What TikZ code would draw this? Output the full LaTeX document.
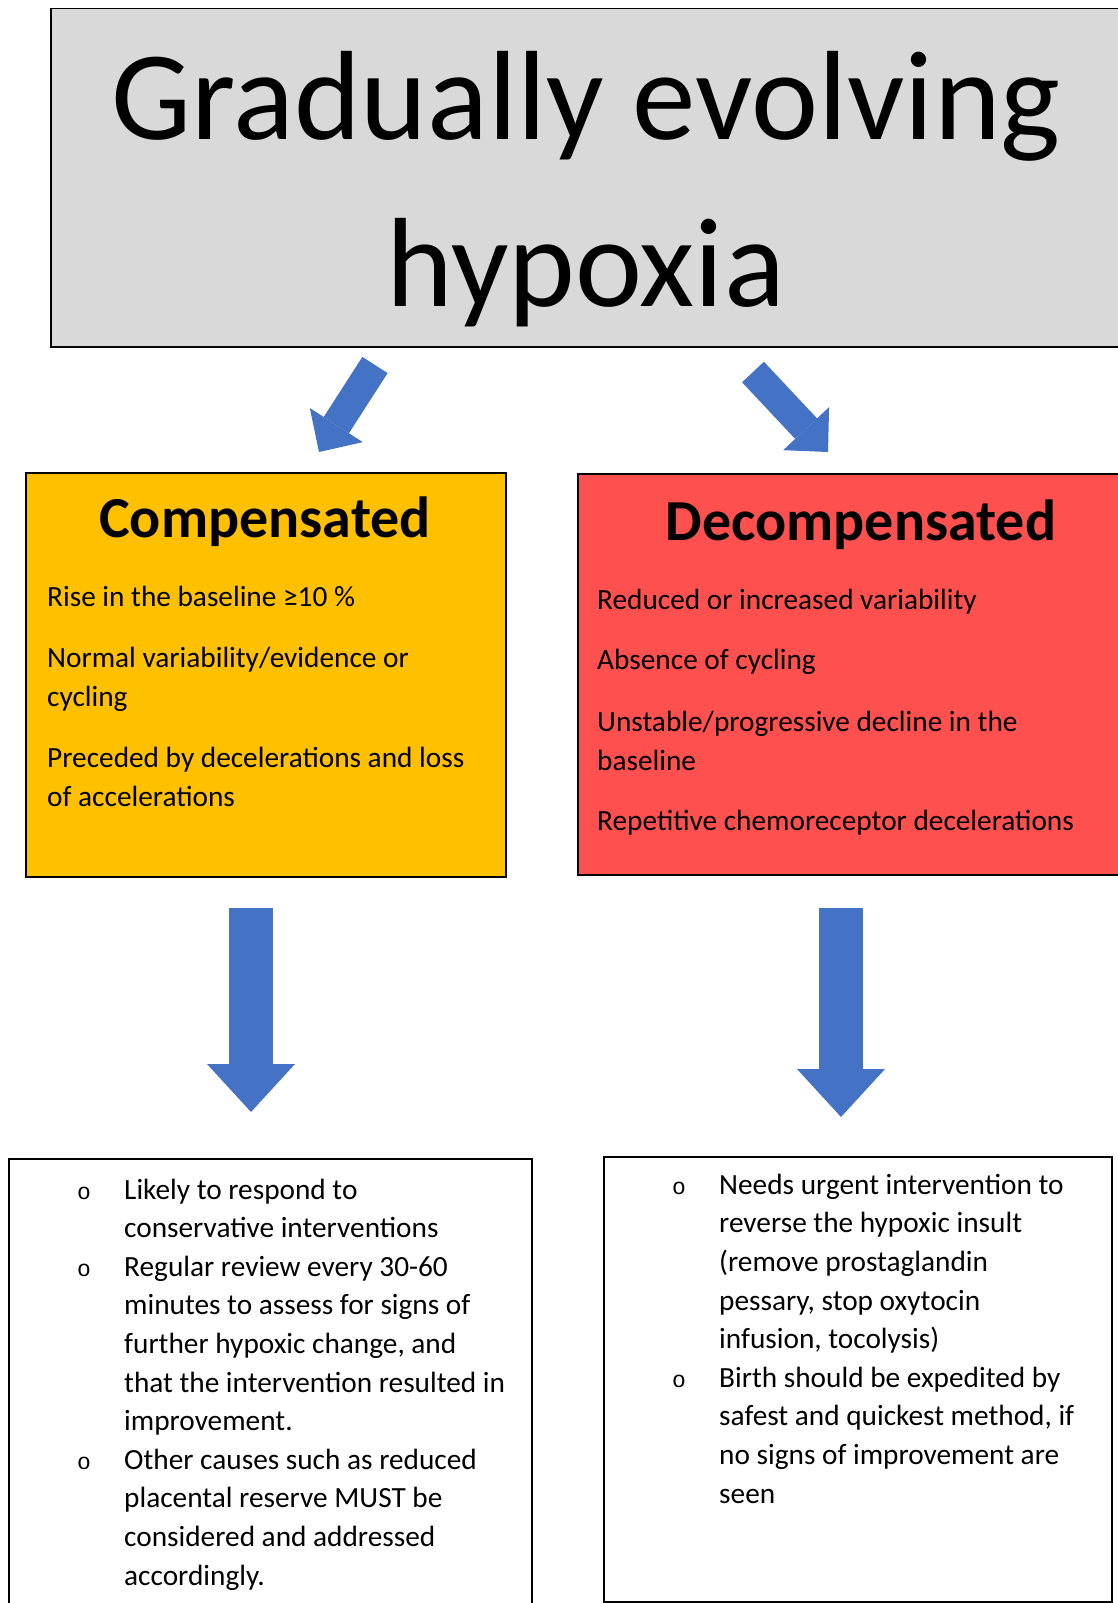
\documentclass[tikz,border=0pt]{standalone}
\usepackage{fontspec}
\setmainfont{Carlito}
\newfontfamily\bulletfont{Liberation Mono}
\usetikzlibrary{arrows.meta}
\definecolor{boxgray}{HTML}{D9D9D9}
\definecolor{compyellow}{HTML}{FFC000}
\definecolor{decompred}{HTML}{FF5050}
\definecolor{arrowblue}{HTML}{4472C4}
\newcommand{\listbullet}{\makebox[47pt][l]{\bulletfont\fontsize{23}{23}\selectfont o}} % hollow bullet
\newcommand{\listindent}{\hspace*{47pt}} % continuation line of a bullet
\tikzset{
    x=1pt, y=-1pt, % pixel-like units, y runs downward
    box/.style={draw, line width=1.5pt, inner sep=0pt, anchor=north west}, % every framed box
    heading/.style={font=\bfseries\fontsize{58}{70}\selectfont, anchor=base}, % box headings
    body/.style={font=\fontsize{29.3}{38.6}\selectfont, align=left, anchor=base west, inner sep=0pt}, % body text, placed by its last line
    slantarrow/.style={draw=arrowblue, line width=30pt, -{Triangle[length=32pt, width=63pt, line width=0pt]}},
    downarrow/.style={draw=arrowblue, line width=44pt, -{Triangle[length=48pt, width=88pt, line width=0pt]}},
    }
\begin{document}
\begin{tikzpicture}
\useasboundingbox (0,0) rectangle (1118,1603);

\node[box, fill=boxgray, minimum width=1080pt, minimum height=338pt] (top) at (50,8) {};
\node[font=\fontsize{127}{167}\selectfont, align=center, anchor=base, inner sep=0pt] (title) at (586,306) {Gradually evolving\\hypoxia};

\node[box, fill=compyellow, minimum width=480pt, minimum height=404pt] (comp) at (25,472) {};
\node[heading] (comphead) at (265,537) {Compensated};
\node[body] (comptext) at (47,806) {Rise in the baseline ≥10 \%\\[23pt]
Normal variability/evidence or\\cycling\\[22.5pt]
Preceded by decelerations and loss\\of accelerations};

\node[box, fill=decompred, minimum width=568pt, minimum height=401pt] (decomp) at (577,473) {};
\node[heading] (decomphead) at (861,540) {Decompensated};
\node[body] (decomptext) at (597,830.5) {Reduced or increased variability\\[21.5pt]
Absence of cycling\\[23.5pt]
Unstable/progressive decline in the\\baseline\\[21.5pt]
Repetitive chemoreceptor decelerations};

\node[box, minimum width=523pt, minimum height=460pt] (compact) at (8,1158) {};
\node[body] (compacttext) at (77,1585) {\listbullet Likely to respond to\\
\listindent conservative interventions\\
\listbullet Regular review every 30-60\\
\listindent minutes to assess for signs of\\
\listindent further hypoxic change, and\\
\listindent that the intervention resulted in\\
\listindent improvement.\\
\listbullet Other causes such as reduced\\
\listindent placental reserve MUST be\\
\listindent considered and addressed\\
\listindent accordingly.};

\node[box, minimum width=508pt, minimum height=445pt] (decompact) at (603,1156) {};
\node[body] (decompacttext) at (672,1503) {\listbullet Needs urgent intervention to\\
\listindent reverse the hypoxic insult\\
\listindent (remove prostaglandin\\
\listindent pessary, stop oxytocin\\
\listindent infusion, tocolysis)\\
\listbullet Birth should be expedited by\\
\listindent safest and quickest method, if\\
\listindent no signs of improvement are\\
\listindent seen};

% block arrows
\coordinate (lefttail) at (375,365);
\coordinate (lefttip) at (319,452);
\coordinate (righttail) at (753,372);
\coordinate (righttip) at (828,452);
\coordinate (compdown) at (251,908);
\coordinate (compdowntip) at (251,1112);
\coordinate (decompdown) at (841,908);
\coordinate (decompdowntip) at (841,1117);

\draw[slantarrow] (lefttail) -- (lefttip);
\draw[slantarrow] (righttail) -- (righttip);
\draw[downarrow] (compdown) -- (compdowntip);
\draw[downarrow] (decompdown) -- (decompdowntip);

\end{tikzpicture}
\end{document}
